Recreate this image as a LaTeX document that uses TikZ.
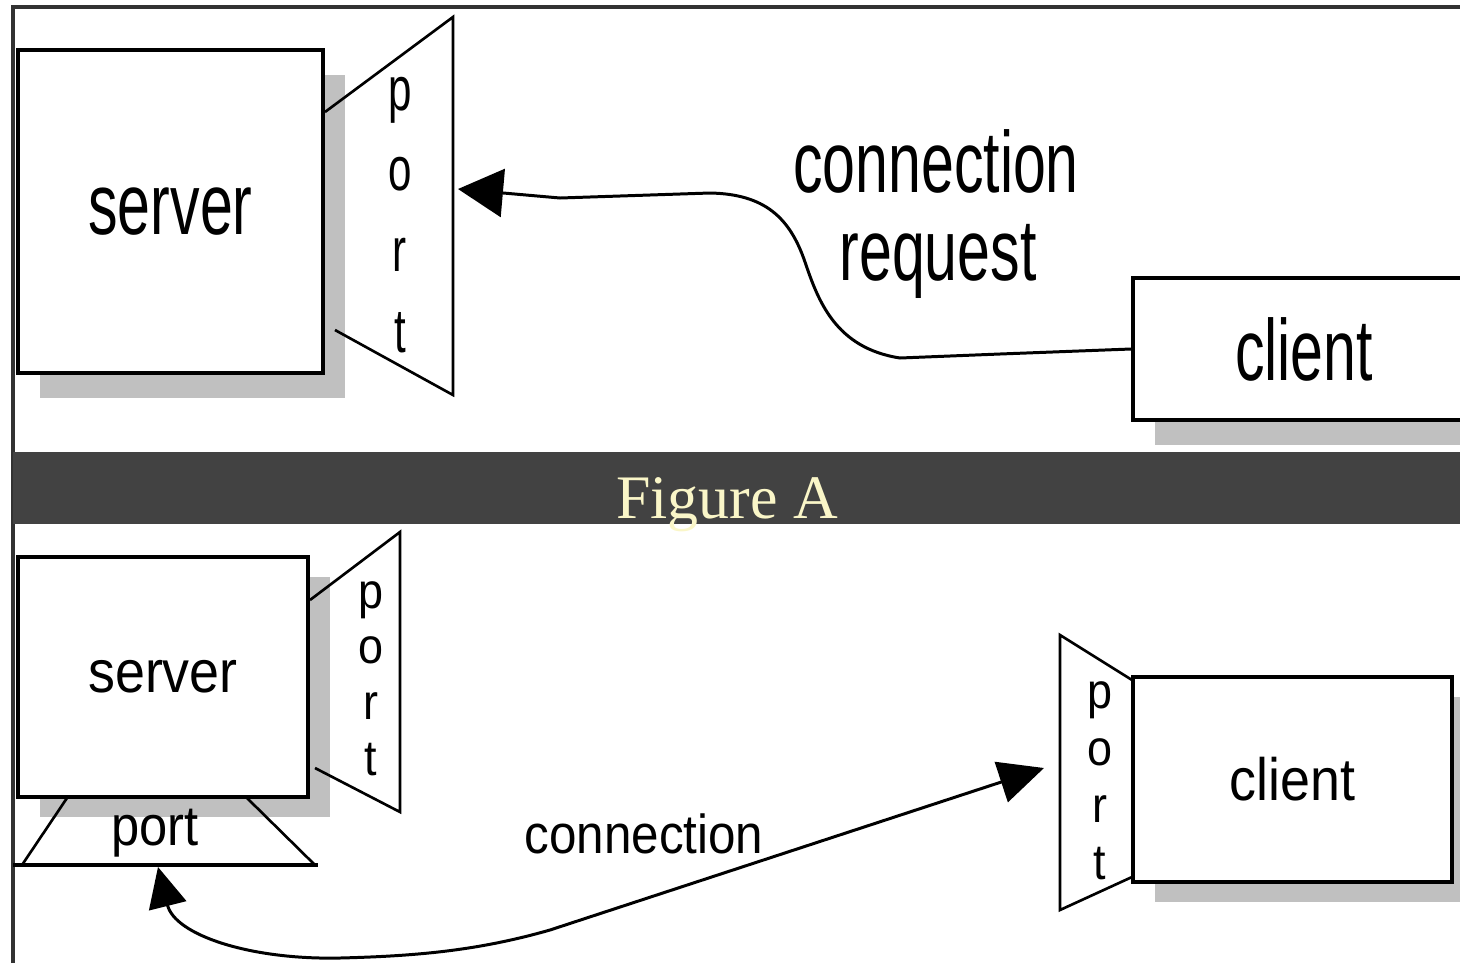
\documentclass[tikz,border=0pt]{standalone}
\usepackage{fontspec}
\newfontfamily\lblA[FakeStretch=0.68]{Liberation Sans}
\newfontfamily\lblB[FakeStretch=0.9]{Liberation Sans}
\newfontfamily\capfont{Liberation Serif}
\usepackage{xcolor}
\usepackage{tikz}
\usetikzlibrary{arrows.meta,shadows}
\definecolor{bandgray}{RGB}{66,66,66}
\definecolor{shadegray}{RGB}{192,192,192}
\definecolor{capyellow}{RGB}{250,246,200}
\definecolor{framegray}{RGB}{50,50,50}

\begin{document}
\begin{tikzpicture}[x=0.01cm,y=-0.01cm,
  box/.style={draw,line width=1.1pt,fill=white,inner sep=0pt},
  shdA/.style={drop shadow={shadow xshift=0.22cm,shadow yshift=-0.25cm,fill=shadegray,opacity=1}},
  shdB/.style={drop shadow={shadow xshift=0.22cm,shadow yshift=-0.2cm,fill=shadegray,opacity=1}},
  bigtxt/.style={font=\lblA\fontsize{24.7}{26}\selectfont},
  smalltxt/.style={font=\lblB\fontsize{17}{19}\selectfont},
  plet/.style={inner sep=0pt,anchor=base},
  pline/.style={line width=0.75pt},
  conn/.style={line width=0.85pt}]
 \useasboundingbox (0,0) rectangle (1460,963);
 \clip (0,0) rectangle (1460,963);
 \draw[framegray,line width=0.9pt] (13,963) |- (1460,7);

 \node[box,shdA,bigtxt,minimum width=3.05cm,minimum height=3.23cm] (srvA) at (170.5,211.5) {server};
 \node[box,shdA,bigtxt,minimum width=3.42cm,minimum height=1.42cm] (cliA) at (1304,349) {client};
 \coordinate (pA1) at (325,112);
 \coordinate (pA2) at (453,17);
 \coordinate (pA3) at (453,395);
 \coordinate (pA4) at (335,330);
 \draw[pline] (pA1) -- (pA2) -- (pA3) -- (pA4);
 \foreach \c [count=\i from 0] in {p,o,r,t}
   \node[plet,font=\lblA\fontsize{17.6}{19}\selectfont] (ltA\i) at (400,{110+80.7*\i}) {\c};
 \coordinate (tipA) at (458,189);
 \draw[conn,-{Triangle[length=0.45cm,width=0.48cm]}] (cliA.west) -- (1000,354) -- (900,358)
   .. controls (835,348) and (818,300) .. (805,262)
   .. controls (790,218) and (765,194) .. (710,193) -- (560,198) -- (tipA);
 \node[bigtxt,anchor=base] (reqA) at (936,192) {connection};
 \node[bigtxt,anchor=base] (reqB) at (938,280) {request};

 \fill[bandgray] (13,452) rectangle (1460,524);
 \node[font=\capfont\fontsize{17.6}{19}\selectfont,text=capyellow,anchor=base] (figcap) at (727,518) {Figure A};

 \node[box,shdB,smalltxt,minimum width=2.9cm,minimum height=2.4cm] (srvB) at (163,677) {server};
 \node[box,shdB,smalltxt,minimum width=3.19cm,minimum height=2.05cm] (cliB) at (1292.5,779.5) {client};
 \coordinate (pB1) at (310,600);
 \coordinate (pB2) at (400,532);
 \coordinate (pB3) at (400,812);
 \coordinate (pB4) at (315,768);
 \draw[pline] (pB1) -- (pB2) -- (pB3) -- (pB4);
 \coordinate (pC1) at (67,798);
 \coordinate (pC2) at (22,865);
 \coordinate (pC3) at (315,865);
 \coordinate (pC4) at (247,798);
 \draw[pline] (pC1) -- (pC2) (pC3) -- (pC4);
 \draw[line width=1pt] (13,865) -- (318,865);
 \coordinate (pD1) at (1132,680);
 \coordinate (pD2) at (1060,635);
 \coordinate (pD3) at (1060,910);
 \coordinate (pD4) at (1132,877);
 \draw[pline] (pD1) -- (pD2) -- (pD3) -- (pD4);
 \foreach \c [count=\i from 0] in {p,o,r,t}{
   \node[plet,font=\lblB\fontsize{14.2}{16}\selectfont] (ltB\i) at (371,{608+55.7*\i}) {\c};
   \node[plet,font=\lblB\fontsize{14.2}{16}\selectfont] (ltD\i) at (1100,{708+57.3*\i}) {\c};
 }
 \node[plet,font=\lblB\fontsize{16}{18}\selectfont] (portC) at (155,845) {port};
 \coordinate (tipB) at (158,867);
 \coordinate (tipC) at (1044,768);
 \draw[conn,{Triangle[length=0.4cm,width=0.38cm]}-{Triangle[length=0.45cm,width=0.42cm]}] (tipB)
   .. controls (175,935) and (250,960) .. (340,958)
   .. controls (420,956) and (480,950) .. (550,930) -- (tipC);
 \node[font=\lblB\fontsize{15.6}{17}\selectfont,anchor=base] (connlbl) at (644,853) {connection};
\end{tikzpicture}
\end{document}
